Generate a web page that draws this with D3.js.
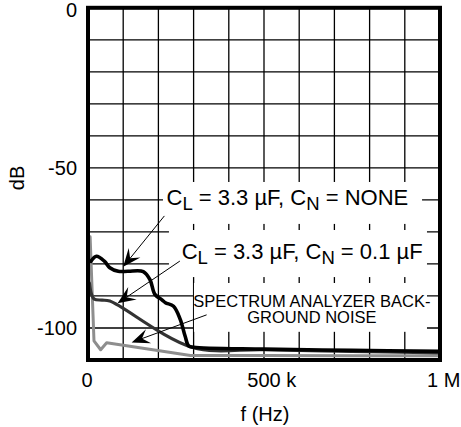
<!DOCTYPE html>
<html><head><meta charset="utf-8">
<script src="https://cdn.jsdelivr.net/npm/d3@7"></script>
<style>
html,body{margin:0;padding:0;background:#fff;}
text{font-family:"Liberation Sans",Arial,Helvetica,sans-serif;fill:#000;}
</style></head>
<body>
<svg id="c" width="461" height="427"></svg>
<script>
// ---- data ----
const noneF  = [8e3, 24e3, 47e3, 62e3, 86e3, 114e3, 157e3, 176e3, 190e3, 210e3, 220e3, 243e3, 262e3, 276e3, 286e3, 300e3, 500e3, 750e3, 1e6];
const noneDb = [-79.2, -77.6, -79.2, -81.2, -82.3, -82.3, -82.4, -84.9, -89.5, -91.2, -92.1, -93.2, -97.3, -102.6, -105.6, -106.0, -106.6, -107.0, -107.3];

const c01F  = [4e3, 10e3, 18e3, 40e3, 62e3, 295e3, 500e3, 750e3, 1e6];
const c01Db = [-86.0, -89.5, -91.0, -91.3, -91.6, -106.0, -106.8, -107.3, -107.8];

const noiseF  = [6e3, 17e3, 36e3, 53e3, 105e3, 291e3, 500e3, 750e3, 1e6];
const noiseDb = [-71.5, -104.0, -106.8, -104.6, -105.5, -108.6, -108.6, -108.7, -108.7];

const xTicks = [0, 500e3, 1e6];
const xTickLabels = ["0", "500 k", "1 M"];
const yTicks = [0, -50, -100];
const yTickLabels = ["0", "-50", "-100"];
const xGrid = d3.range(1, 10).map(d => d * 1e5);
const yGrid = d3.range(1, 11).map(d => -d * 10);

// ---- scales ----
const svg = d3.select("#c");
const x = d3.scaleLinear().domain([0, 1e6]).range([88, 440]);
const y = d3.scaleLinear().domain([0, -110]).range([7.8, 360]);

// grid
const g = svg.append("g");
g.selectAll(".vg").data(xGrid).join("line")
  .attr("x1", d => x(d)).attr("x2", d => x(d))
  .attr("y1", y(0)).attr("y2", y(-110))
  .attr("stroke", "#000").attr("stroke-width", 1.3);
g.selectAll(".hg").data(yGrid).join("line")
  .attr("x1", x(0)).attr("x2", x(1e6))
  .attr("y1", d => y(d)).attr("y2", d => y(d))
  .attr("stroke", "#000").attr("stroke-width", 1.3);

// white label backgrounds (data units)
const boxes = [
  {f0: 213e3, f1: 949e3, d0: -54.4, d1: -67.5},
  {f0: 230e3, f1: 963e3, d0: -69.4, d1: -84.1},
  {f0: 301e3, f1: 963e3, d0: -85.95, d1: -101.2}
];
svg.selectAll(".bx").data(boxes).join("rect")
  .attr("x", d => x(d.f0)).attr("y", d => y(d.d0))
  .attr("width", d => x(d.f1) - x(d.f0)).attr("height", d => y(d.d1) - y(d.d0))
  .attr("fill", "#fff");

// curves
function series(F, D) { return F.map((f, i) => [f, D[i]]); }
const lineLin = d3.line().x(d => x(d[0])).y(d => y(d[1]));
const lineSm = d3.line().x(d => x(d[0])).y(d => y(d[1])).curve(d3.curveCatmullRom.alpha(0.5));

svg.append("path").attr("d", lineLin(series(noiseF, noiseDb)))
  .attr("fill", "none").attr("stroke", "#8e8e8e").attr("stroke-width", 3)
  .attr("stroke-linejoin", "round").attr("stroke-linecap", "round");
svg.append("path").attr("d", lineSm(series(c01F, c01Db)))
  .attr("fill", "none").attr("stroke", "#333").attr("stroke-width", 3.2)
  .attr("stroke-linejoin", "round").attr("stroke-linecap", "round");
svg.append("path").attr("d", lineSm(series(noneF, noneDb)))
  .attr("fill", "none").attr("stroke", "#000").attr("stroke-width", 3.6)
  .attr("stroke-linejoin", "round").attr("stroke-linecap", "round");

// annotations
function label(xp, yb, parts, size, sub) {
  const t = svg.append("text").attr("x", xp).attr("y", yb).attr("font-size", size);
  let down = false;
  parts.forEach(p => {
    const s = t.append("tspan").text(p.t);
    if (p.sub) { s.attr("font-size", sub).attr("dy", 5); down = true; }
    else if (down) { s.attr("dy", -5); down = false; }
  });
  return t;
}
label(x(223e3), y(-61.6), [{t:"C"},{t:"L",sub:true},{t:" = 3.3 µF, C"},{t:"N",sub:true},{t:" = NONE"}], 22, 18.5);
label(x(266e3), y(-78.3), [{t:"C"},{t:"L",sub:true},{t:" = 3.3 µF, C"},{t:"N",sub:true},{t:" = 0.1 µF"}], 22, 18.5);
const noiseLbl = svg.append("text").attr("font-size", 16.5).attr("text-anchor", "middle");
noiseLbl.append("tspan").attr("x", x(636e3)).attr("y", y(-93.6)).text("SPECTRUM ANALYZER BACK-");
noiseLbl.append("tspan").attr("x", x(636e3)).attr("y", y(-98.6)).text("GROUND NOISE");

const arrows = [
  {f0: 217e3, d0: -65.0, f1: 100e3, d1: -80.9},
  {f0: 261e3, d0: -79.1, f1: 84e3, d1: -92.3},
  {f0: 337e3, d0: -95.9, f1: 124e3, d1: -104.5}
];
arrows.forEach(a => {
  const x0 = x(a.f0), y0 = y(a.d0), x1 = x(a.f1), y1 = y(a.d1);
  const L = Math.hypot(x1 - x0, y1 - y0), ux = (x1 - x0) / L, uy = (y1 - y0) / L;
  const nx = -uy, ny = ux;
  const len = 18, hw = 7.5, notch = 11;
  svg.append("line").attr("x1", x0).attr("y1", y0)
    .attr("x2", x1 - ux * notch).attr("y2", y1 - uy * notch)
    .attr("stroke", "#000").attr("stroke-width", 1);
  const p = [
    [x1, y1],
    [x1 - ux * len + nx * hw, y1 - uy * len + ny * hw],
    [x1 - ux * notch, y1 - uy * notch],
    [x1 - ux * len - nx * hw, y1 - uy * len - ny * hw]
  ];
  svg.append("path").attr("d", "M" + p.map(q => q.join(",")).join("L") + "Z").attr("fill", "#000");
});

// frame
svg.append("rect").attr("x", x(0)).attr("y", y(0))
  .attr("width", x(1e6) - x(0)).attr("height", y(-110) - y(0))
  .attr("fill", "none").attr("stroke", "#000").attr("stroke-width", 4);

// tick labels
svg.selectAll(".yt").data(yTicks).join("text")
  .attr("x", 77).attr("y", d => Math.max(y(d) + 7, 17))
  .attr("text-anchor", "end").attr("font-size", 20)
  .text((d, i) => yTickLabels[i]);
const xOff = [0, -16.7, -13];
svg.selectAll(".xt").data(xTicks).join("text")
  .attr("x", (d, i) => x(d) + xOff[i] - (i === 0 ? 1 : 0)).attr("y", 387)
  .attr("text-anchor", (d, i) => i === 0 ? "middle" : "start").attr("font-size", 20)
  .text((d, i) => xTickLabels[i]);

// axis titles
svg.append("text").attr("x", 265).attr("y", 421).attr("text-anchor", "middle")
  .attr("font-size", 20).text("f (Hz)");
svg.append("text").attr("transform", "translate(24,178) rotate(-90)")
  .attr("text-anchor", "middle").attr("font-size", 20).text("dB");
</script>
</body></html>
